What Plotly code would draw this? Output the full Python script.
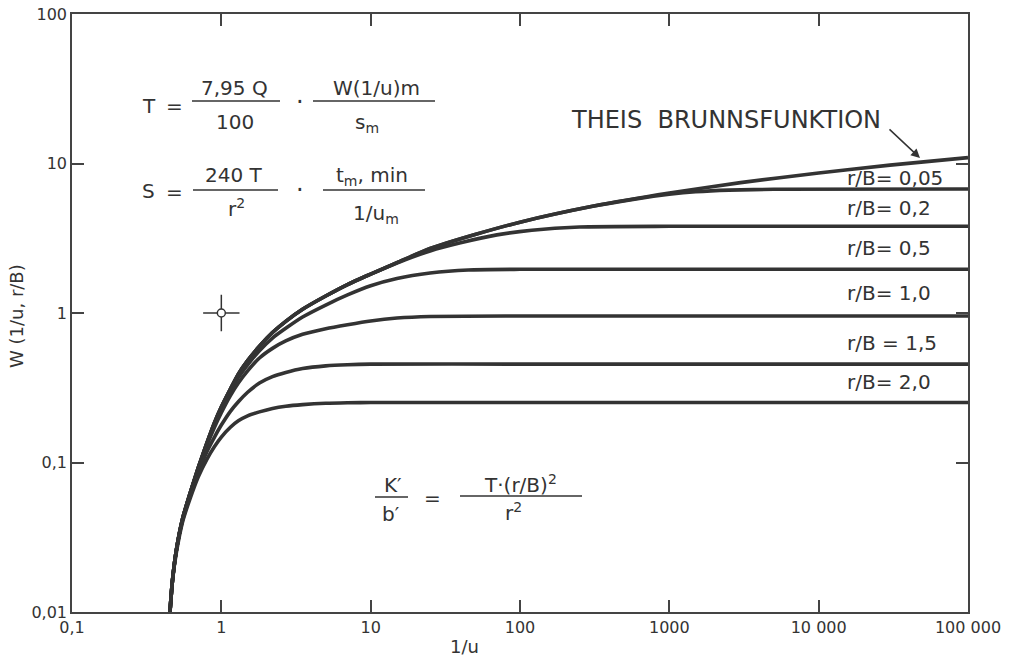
import plotly.graph_objects as go

# ---------------- data ----------------
x_theis = [0.453, 0.47, 0.5, 0.55, 0.62, 0.7, 0.8, 0.9, 1.0, 1.15, 1.3, 1.5, 1.8, 2.2, 2.7, 3.5, 5,
           7, 10, 15, 25, 50, 100, 300, 1000, 3000, 10000, 30000, 100000]
w_theis = [0.01, 0.016, 0.026, 0.042, 0.063, 0.092, 0.135, 0.185, 0.235, 0.31, 0.39, 0.48, 0.6,
           0.74, 0.88, 1.06, 1.3, 1.55, 1.82, 2.17, 2.7, 3.35, 4.05, 5.15, 6.35, 7.45, 8.65, 9.75,
           10.95]

x_rb005 = [0.453, 0.47, 0.5, 0.55, 0.62, 0.7, 0.8, 0.9, 1.0, 1.15, 1.3, 1.5, 1.8, 2.2, 2.7, 3.5, 5,
           7, 10, 15, 25, 50, 100, 300, 600, 1000, 1500, 2500, 5000, 100000]
w_rb005 = [0.01, 0.016, 0.026, 0.042, 0.063, 0.092, 0.135, 0.185, 0.235, 0.31, 0.39, 0.48, 0.6,
           0.74, 0.88, 1.06, 1.3, 1.55, 1.82, 2.17, 2.7, 3.35, 4.05, 5.15, 5.8, 6.22, 6.47, 6.64,
           6.72, 6.75]

x_rb02 = [0.453, 0.47, 0.5, 0.55, 0.62, 0.7, 0.8, 0.9, 1.0, 1.15, 1.3, 1.5, 1.8, 2.2, 2.7, 3.5, 5,
          7, 10, 15, 25, 40, 70, 120, 250, 1000, 100000]
w_rb02 = [0.01, 0.016, 0.026, 0.042, 0.063, 0.092, 0.135, 0.185, 0.235, 0.31, 0.39, 0.48, 0.6,
          0.74, 0.88, 1.06, 1.3, 1.55, 1.82, 2.16, 2.6, 2.95, 3.33, 3.58, 3.76, 3.8, 3.8]

x_rb05 = [0.453, 0.47, 0.5, 0.55, 0.62, 0.7, 0.8, 0.9, 1.0, 1.15, 1.3, 1.5, 1.8, 2.2, 2.7, 3.5, 5,
          7, 10, 15, 25, 45, 100, 100000]
w_rb05 = [0.01, 0.016, 0.026, 0.042, 0.063, 0.091, 0.133, 0.18, 0.228, 0.3, 0.37, 0.45, 0.56,
          0.68, 0.79, 0.94, 1.13, 1.32, 1.52, 1.7, 1.85, 1.94, 1.96, 1.96]

x_rb10 = [0.453, 0.47, 0.5, 0.55, 0.62, 0.7, 0.8, 0.9, 1.0, 1.15, 1.3, 1.5, 1.8, 2.2, 2.7, 3.5, 5,
          7, 10, 15, 25, 100, 100000]
w_rb10 = [0.01, 0.016, 0.026, 0.042, 0.062, 0.09, 0.13, 0.172, 0.215, 0.28, 0.34, 0.41, 0.5, 0.58,
          0.65, 0.72, 0.785, 0.835, 0.885, 0.925, 0.948, 0.955, 0.955]

x_rb15 = [0.453, 0.47, 0.5, 0.55, 0.62, 0.7, 0.8, 0.9, 1.0, 1.15, 1.3, 1.5, 1.8, 2.2, 2.7, 3.5, 5,
          7, 10, 100, 100000]
w_rb15 = [0.01, 0.016, 0.026, 0.041, 0.06, 0.085, 0.118, 0.148, 0.178, 0.22, 0.255, 0.295, 0.34,
          0.375, 0.4, 0.425, 0.443, 0.451, 0.455, 0.455, 0.455]

x_rb20 = [0.453, 0.47, 0.5, 0.55, 0.62, 0.7, 0.8, 0.9, 1.0, 1.15, 1.3, 1.5, 1.8, 2.2, 2.7, 3.5, 5,
          7, 10, 100, 100000]
w_rb20 = [0.01, 0.016, 0.025, 0.04, 0.058, 0.08, 0.105, 0.128, 0.148, 0.172, 0.19, 0.205, 0.218,
          0.23, 0.238, 0.244, 0.249, 0.251, 0.252, 0.252, 0.252]

curve_labels = ["r/B= 0,05", "r/B= 0,2", "r/B= 0,5", "r/B= 1,0", "r/B = 1,5", "r/B= 2,0"]

match_x = [1]
match_y = [1]

x_tickvals = [0.1, 1, 10, 100, 1000, 10000, 100000]
x_ticktext = ["0,1", "1", "10", "100", "1000", "10 000", "100 000"]
y_tickvals = [0.01, 0.1, 1, 10, 100]
y_ticktext = ["0,01", "0,1", "1", "10", "100"]

# ---------------- figure ----------------
INK = "#333333"
FONT = "DejaVu Sans"
L, R, T, B = 72, 968, 14, 612  # plot area in page pixels
W_, H_ = 1022, 667

fig = go.Figure()
for xs, ys in [(x_theis, w_theis), (x_rb005, w_rb005), (x_rb02, w_rb02), (x_rb05, w_rb05),
               (x_rb10, w_rb10), (x_rb15, w_rb15), (x_rb20, w_rb20)]:
    fig.add_trace(go.Scatter(x=xs, y=ys, mode="lines",
                             line=dict(color=INK, width=3.6, shape="spline", smoothing=0.6),
                             showlegend=False, hoverinfo="skip"))

fig.add_trace(go.Scatter(x=match_x, y=match_y, mode="markers", showlegend=False,
                         hoverinfo="skip",
                         marker=dict(symbol="cross-thin", size=26, color=INK,
                                     line=dict(color=INK, width=1.5))))
fig.add_trace(go.Scatter(x=match_x, y=match_y, mode="markers", showlegend=False,
                         hoverinfo="skip",
                         marker=dict(symbol="circle", size=8, color="white",
                                     line=dict(color=INK, width=1.5))))


def P(px, py):
    return (px - L) / (R - L), (B - py) / (B - T)


anns = []


def text(t, px, py, size=20, xanchor="center", angle=0):
    x, y = P(px, py)
    anns.append(dict(text=t, x=x, y=y, xref="paper", yref="paper", showarrow=False,
                     xanchor=xanchor, yanchor="middle", textangle=angle,
                     font=dict(family=FONT, size=size, color=INK)))


shapes = []


def bar(px0, px1, py):
    x0, y = P(px0, py)
    x1, _ = P(px1, py)
    shapes.append(dict(type="line", xref="paper", yref="paper", x0=x0, x1=x1, y0=y, y1=y,
                       line=dict(color=INK, width=1.6)))


# T equation
text("T", 149, 106)
text("=", 174, 106)
text("7,95 Q", 234, 88)
bar(192, 280, 101)
text("100", 235, 122)
text("·", 300, 102, size=24)
text("W(1/u)m", 376, 88)
bar(313, 435, 101)
text("s<sub>m</sub>", 367, 123)

# S equation
text("S", 148, 191)
text("=", 174, 192)
text("240 T", 234, 175)
bar(193, 278, 190)
text("r<sup>2</sup>", 236, 208)
text("·", 300, 190, size=24)
text("t<sub>m</sub>, min", 372, 176)
bar(323, 425, 190)
text("1/u<sub>m</sub>", 376, 214)

# K'/b' equation
text("K\u2032", 393, 485)
bar(375, 408, 497)
text("b\u2032", 391, 514)
text("=", 432, 498)
text("T·(r/B)<sup>2</sup>", 520, 484)
bar(460, 582, 496)
text("r<sup>2</sup>", 513, 512)

# curve labels
for lab, py in zip(curve_labels, [178, 208, 248, 293, 343, 382]):
    text(lab, 845, py, size=20, xanchor="left")

# Theis label + arrow
text("THEIS  BRUNNSFUNKTION", 726, 120, size=24)
ax_, ay_ = P(920, 158)
anns.append(dict(text="", x=ax_, y=ay_, xref="paper", yref="paper", showarrow=True,
                 ax=-32, ay=-30, arrowhead=2, arrowsize=1.2, arrowwidth=1.5, arrowcolor=INK))

# axis titles
text("1/u", 464, 646, size=18)
text("W (1/u, r/B)", 16, 316, size=18, angle=-90)

axis_common = dict(type="log", showline=True, linecolor="#444", linewidth=1.5, mirror="ticks",
                   ticks="inside", ticklen=12, tickwidth=1.5, tickcolor="#444",
                   showgrid=False, zeroline=False, automargin=False,
                   ticklabeloverflow="allow",
                   tickfont=dict(family=FONT, size=16, color=INK))

fig.update_layout(
    width=W_, height=H_,
    margin=dict(l=L, r=W_ - R, t=T, b=H_ - B, pad=0),
    paper_bgcolor="white", plot_bgcolor="white",
    xaxis=dict(range=[-1, 5], tickvals=x_tickvals, ticktext=x_ticktext, **axis_common),
    yaxis=dict(range=[-2, 2], tickvals=y_tickvals, ticktext=y_ticktext, **axis_common),
    annotations=anns, shapes=shapes,
    font=dict(family=FONT, color=INK),
)

fig.write_html("out.html", config={"displayModeBar": False},
               post_script="document.body.style.margin='0';document.body.style.overflow='hidden';")
